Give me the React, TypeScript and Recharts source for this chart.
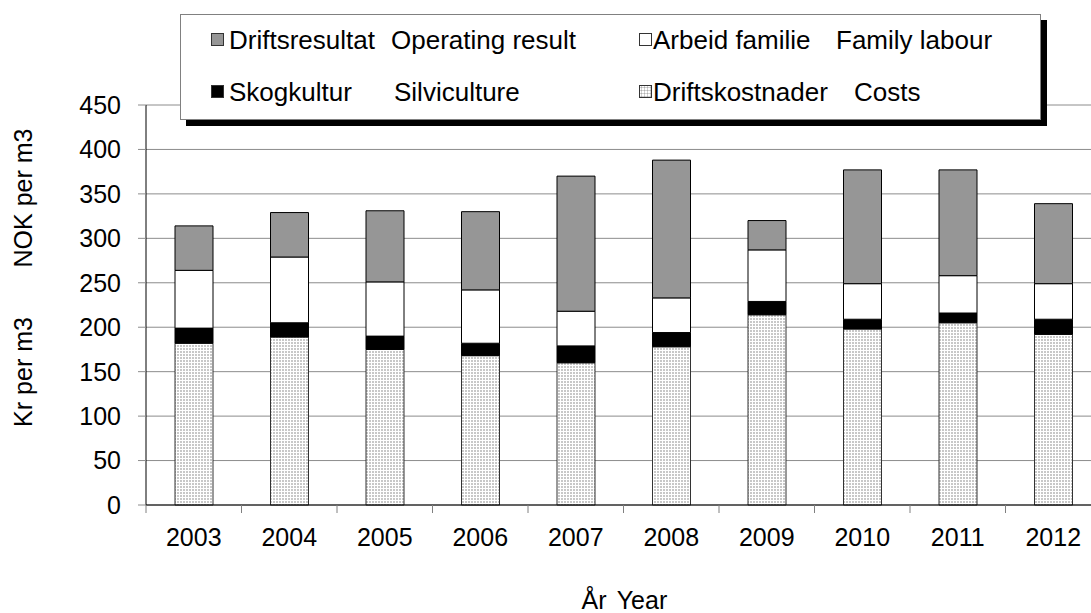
import React from "react";
import { BarChart, Bar, XAxis, YAxis, CartesianGrid, Legend, Label } from "recharts";

const years = ["2003", "2004", "2005", "2006", "2007", "2008", "2009", "2010", "2011", "2012"];
const costs = [182, 189, 175, 168, 160, 178, 214, 198, 205, 192];
const silviculture = [17, 16, 15, 14, 19, 16, 15, 11, 11, 17];
const familyLabour = [65, 74, 61, 60, 39, 39, 58, 40, 42, 40];
const operatingResult = [50, 50, 80, 88, 152, 155, 33, 128, 119, 90];
const yTicks = [0, 50, 100, 150, 200, 250, 300, 350, 400, 450];

const seriesNo = ["Driftsresultat", "Arbeid familie", "Skogkultur", "Driftskostnader"];
const seriesEn = ["Operating result", "Family labour", "Silviculture", "Costs"];
const yTitleNo = "Kr per m3";
const yTitleEn = "NOK per m3";
const xTitleNo = "År";
const xTitleEn = "Year";

const data = years.map((y, i) => ({
  year: y,
  costs: costs[i],
  silv: silviculture[i],
  family: familyLabour[i],
  oper: operatingResult[i],
}));

const FONT = "'Liberation Sans', Arial, Helvetica, sans-serif";
const FS = 25;
const LFS = 26;
const GRAY = "#969696";

const XTick = (props: any) => {
  const { x, y, payload } = props;
  const half = payload && payload.offset != null ? payload.offset : 47.75;
  return (
    <g>
      <line x1={x - half} x2={x - half} y1={y} y2={y + 8} stroke="#808080" strokeWidth={1} />
      <text x={x} y={y + 41} textAnchor="middle" fontSize={FS} fontFamily={FONT} fill="#000">
        {payload.value}
      </text>
    </g>
  );
};

const Marker = ({ kind }: { kind: number }) => {
  const base: React.CSSProperties = {
    position: "absolute",
    width: 13,
    height: 13,
    border: "1px solid #333",
    boxSizing: "border-box",
  };
  let bg: React.CSSProperties = {};
  if (kind === 0) bg = { background: GRAY };
  if (kind === 1) bg = { background: "#fff" };
  if (kind === 2) bg = { background: "#000" };
  if (kind === 3)
    bg = {
      backgroundColor: "#fff",
      backgroundImage: "radial-gradient(#b0b0b0 45%, transparent 50%)",
      backgroundSize: "3px 3px",
    };
  return <div style={{ ...base, ...bg }} />;
};

const legendPos = [
  { mx: 30, tx: 48, ex: 210, cy: 26 },
  { mx: 458, tx: 472, ex: 655, cy: 26 },
  { mx: 30, tx: 48, ex: 213, cy: 78 },
  { mx: 458, tx: 472, ex: 673, cy: 78 },
];

const LegendBox = () => (
  <div
    style={{
      position: "relative",
      width: 861,
      height: 106,
      border: "1px solid #808080",
      background: "#fff",
      boxShadow: "6px 6px 0 #000",
      boxSizing: "border-box",
      fontFamily: FONT,
      fontSize: LFS,
      color: "#000",
    }}
  >
    {seriesNo.map((name, i) => {
      const p = legendPos[i];
      return (
        <React.Fragment key={name}>
          <div style={{ position: "absolute", left: p.mx, top: p.cy - 8 }}>
            <Marker kind={i} />
          </div>
          <div style={{ position: "absolute", left: p.tx, top: p.cy - 16, lineHeight: "30px", whiteSpace: "nowrap" }}>
            {name}
          </div>
          <div style={{ position: "absolute", left: p.ex, top: p.cy - 16, lineHeight: "30px", whiteSpace: "nowrap" }}>
            {seriesEn[i]}
          </div>
        </React.Fragment>
      );
    })}
  </div>
);

const YTitle = () => (
  <g>
    <text transform="rotate(-90, 32, 372)" x={32} y={372} textAnchor="middle" fontSize={FS} fontFamily={FONT} fill="#000">
      {yTitleNo}
    </text>
    <text transform="rotate(-90, 32, 198)" x={32} y={198} textAnchor="middle" fontSize={FS} fontFamily={FONT} fill="#000">
      {yTitleEn}
    </text>
  </g>
);

const XTitle = () => (
  <g>
    <text x={594} y={609} textAnchor="middle" fontSize={FS} fontFamily={FONT} fill="#000">
      {xTitleNo}
    </text>
    <text x={642} y={609} textAnchor="middle" fontSize={FS} fontFamily={FONT} fill="#000">
      {xTitleEn}
    </text>
  </g>
);

export default function App() {
  return (
    <div
      style={{
        position: "absolute",
        left: 0,
        top: 0,
        width: 1091,
        height: 613,
        overflow: "hidden",
        background: "#fff",
        fontFamily: FONT,
      }}
    >
      <BarChart
        width={1110}
        height={613}
        data={data}
        margin={{ top: 105, right: 9, bottom: 0, left: 0 }}
        barSize={38}
      >
        <defs>
          <pattern id="dots" width="3" height="3" patternUnits="userSpaceOnUse">
            <rect width="3" height="3" fill="#ffffff" />
            <rect x="0" y="0" width="2" height="2" fill="#c8c8c8" />
          </pattern>
        </defs>
        <CartesianGrid horizontal vertical={false} stroke="#8c8c8c" strokeWidth={1} />
        <XAxis
          dataKey="year"
          height={108}
          axisLine={{ stroke: "#000", strokeWidth: 1 }}
          tickLine={false}
          tickSize={0}
          tickMargin={0}
          tick={<XTick />}
          interval={0}
        >
          <Label content={<XTitle />} />
        </XAxis>
        <YAxis
          width={146}
          domain={[0, 450]}
          ticks={yTicks}
          interval={0}
          axisLine={{ stroke: "#000", strokeWidth: 1 }}
          tickLine={{ stroke: "#8c8c8c", strokeWidth: 1 }}
          tickSize={8}
          tickMargin={17}
          tick={{ fontSize: FS, fontFamily: FONT, fill: "#000" }}
        >
          <Label content={<YTitle />} />
        </YAxis>
        <Legend
          layout="horizontal"
          verticalAlign="middle"
          align="center"
          content={<LegendBox />}
          wrapperStyle={{ left: 180, top: 14, width: 870, height: 112 }}
        />
        <Bar dataKey="costs" name={seriesNo[3]} stackId="a" fill="url(#dots)" stroke="#333" strokeWidth={1} isAnimationActive={false} />
        <Bar dataKey="silv" name={seriesNo[2]} stackId="a" fill="#000" stroke="#000" strokeWidth={1} isAnimationActive={false} />
        <Bar dataKey="family" name={seriesNo[1]} stackId="a" fill="#fff" stroke="#000" strokeWidth={1} isAnimationActive={false} />
        <Bar dataKey="oper" name={seriesNo[0]} stackId="a" fill={GRAY} stroke="#000" strokeWidth={1} isAnimationActive={false} />
      </BarChart>
    </div>
  );
}
